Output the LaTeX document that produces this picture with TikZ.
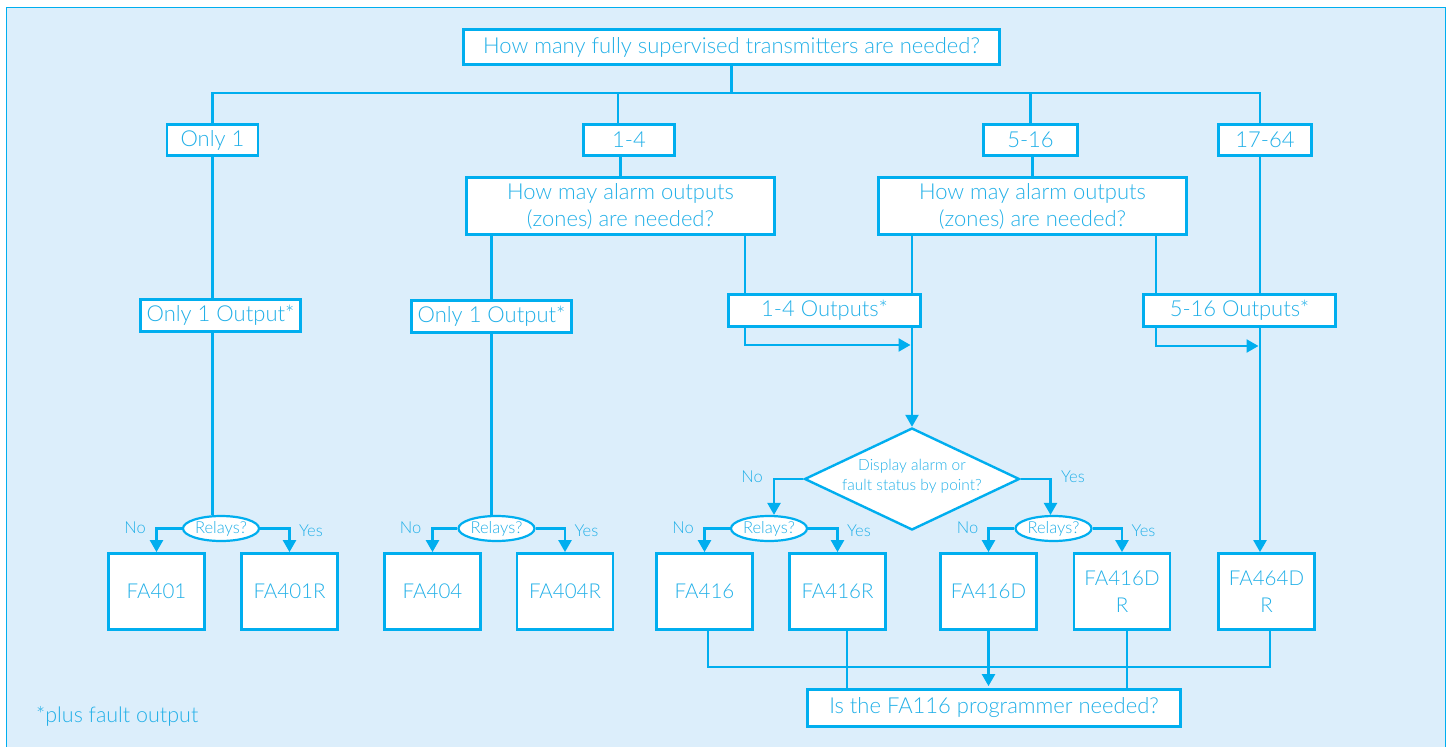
\documentclass[tikz,border=0pt]{standalone}
\usepackage{fontspec}
\setmainfont{Lato}[UprightFont=* Light]
\usetikzlibrary{arrows.meta,shapes.geometric,calc}
\definecolor{cy}{HTML}{00AEEF}
\definecolor{tx}{HTML}{22B0E8}
\definecolor{pan}{HTML}{DCEEFB}
\begin{document}
\begin{tikzpicture}[x=1pt,y=-1pt,
  box/.style={draw=cy,line width=2.8pt,fill=white,inner sep=0pt,text=tx,
    font=\fontsize{22}{27}\selectfont,align=center},
  ln/.style={draw=cy,line width=2.4pt},
  arr/.style={ln,-{Triangle[length=12pt,width=13pt]}},
  relay/.style={ellipse,draw=cy,line width=2.2pt,fill=white,minimum width=76pt,
    minimum height=25pt,inner sep=0pt},
  rtext/.style={text=tx,font=\fontsize{16.5}{19}\selectfont,inner sep=0pt},
  lab/.style={text=tx,font=\fontsize{16.5}{19}\selectfont,inner sep=0pt},
  fa/.style={box,minimum width=96pt,minimum height=76pt,font=\fontsize{20.5}{27}\selectfont},
]
\useasboundingbox (0,0) rectangle (1449,747);
\fill[white] (0,0) rectangle (1449,747);
\filldraw[fill=pan,draw=cy,line width=1pt] (6.5,7) rectangle (1445,770);

% top level
\node[box,minimum width=536pt,minimum height=35pt] (top) at (731.5,47) {How many fully supervised transmitters are needed?};
\node[box,minimum width=91pt,minimum height=31pt] (o1) at (212.5,140) {Only 1};
\node[box,minimum width=91pt,minimum height=31pt] (b14) at (629,140) {1-4};
\node[box,minimum width=94pt,minimum height=31pt] (b516) at (1030.5,140) {5-16};
\node[box,minimum width=93pt,minimum height=31pt] (b1764) at (1265,140) {17-64};

\node[box,minimum width=308pt,minimum height=57pt] (q1) at (620.5,206) {How may alarm outputs\\(zones) are needed?};
\node[box,minimum width=308pt,minimum height=57pt] (q2) at (1032.5,206) {How may alarm outputs\\(zones) are needed?};

\node[box,minimum width=160pt,minimum height=32pt] (out1) at (220.5,315.5) {Only 1 Output*};
\node[box,minimum width=160pt,minimum height=32pt] (out2) at (491.5,316.5) {Only 1 Output*};
\node[box,minimum width=192pt,minimum height=32pt] (out14) at (824.5,310.5) {1-4 Outputs*};
\node[box,minimum width=192pt,minimum height=32pt] (out516) at (1239.5,310.5) {5-16 Outputs*};

\node[diamond,draw=cy,line width=2.4pt,fill=white,minimum width=215pt,minimum height=102pt,inner sep=0pt] (dia) at (912,479) {};
\node[text=tx,font=\fontsize{15.5}{20}\selectfont,align=center] (diat) at (912,476) {Display alarm or\\fault status by point?};

\node[relay] (r1) at (221,528.5) {};
\node[relay] (r2) at (496.5,528.5) {};
\node[relay] (r3) at (769,528.5) {};
\node[relay] (r4) at (1053.5,528.5) {};
\foreach \r in {r1,r2,r3,r4}{\node[rtext] at (\r) {Relays?};}

\node[fa] (fa401) at (156.5,591.5) {FA401};
\node[fa] (fa401r) at (289.5,591.5) {FA401R};
\node[fa] (fa404) at (432.5,591.5) {FA404};
\node[fa] (fa404r) at (565,591.5) {FA404R};
\node[fa] (fa416) at (704.5,591.5) {FA416};
\node[fa] (fa416r) at (837.5,591.5) {FA416R};
\node[fa] (fa416d) at (988.5,591.5) {FA416D};
\node[fa] (fa416dr) at (1122,591.5) {FA416D\\R};
\node[fa] (fa464) at (1266.5,591.5) {FA464D\\R};

\node[box,minimum width=373pt,minimum height=37pt] (q116) at (994,708) {Is the FA116 programmer needed?};

\node[anchor=west,text=tx,font=\fontsize{21.5}{24}\selectfont,inner sep=0pt] (fn) at (36,716) {*plus fault output};

% bus
\coordinate (bus) at (731.5,93);
\draw[ln] (top.south) -- (bus);
\draw[ln] (o1.north) |- (bus);
\draw[ln] ([xshift=-11pt]b14.north) |- (bus);
\draw[ln] (b516.north) |- (bus);
\draw[ln] ([xshift=-5pt]b1764.north) |- (bus);

\draw[ln] (q1.north) -- (q1.north |- b14.south);
\draw[ln] (q2.north) -- (q2.north |- b516.south);

% left column
\draw[ln] (o1.south) -- (o1.south |- out1.north);
\draw[ln] (o1.south |- out1.south) -- (o1.south |- r1.north);
\draw[ln] (out2.north) -- (out2.north |- q1.south);
\draw[ln] (out2.south) -- (out2.south |- r2.north);

% middle
\coordinate (xa) at (745,0);
\coordinate (xb) at (912,0);
\coordinate (xc) at (1156,0);
\coordinate (xd) at (1260,0);
\coordinate (ya) at (0,345);
\coordinate (yb) at (0,346);
\draw[ln] (xa |- q1.south) -- (xa |- out14.north);
\draw[arr,shorten >=1.5pt] (xa |- out14.south) |- (xb |- ya);
\draw[ln] (xb |- q2.south) -- (xb |- out14.north);
\draw[arr] (xb |- out14.south) -- (dia.north);
\draw[ln] (xc |- q2.south) -- (xc |- out516.north);
\draw[arr,shorten >=1.5pt] (xc |- out516.south) |- (xd |- yb);
\draw[ln] (xd |- b1764.south) -- (xd |- out516.north);
\draw[arr] (xd |- out516.south) -- (xd |- fa464.north);

% diamond branches
\draw[arr] (dia.west) -| ([xshift=5pt]r3.north);
\draw[arr] (dia.east) -| ([xshift=-3pt]r4.north);
\node[lab] at (752,477) {No};
\node[lab] at (1073,477) {Yes};

% relays
\draw[arr] (r1.west) -| (fa401.north);
\draw[arr] (r1.east) -| (fa401r.north);
\draw[arr] (r2.west) -| (fa404.north);
\draw[arr] (r2.east) -| (fa404r.north);
\draw[arr] (r3.west) -| (fa416.north);
\draw[arr] (r3.east) -| (fa416r.north);
\draw[arr] (r4.west) -| (fa416d.north);
\draw[arr] (r4.east) -| (fa416dr.north);
\foreach \r in {r1,r2,r3,r4}{
  \node[lab] at ($(\r)+(-86,-1)$) {No};
  \node[lab] at ($(\r)+(90,2)$) {Yes};
}

% bottom
\coordinate (k0) at ($(fa416.south)+(3.5,0)$);
\coordinate (k4) at ($(fa464.south)+(3.5,0)$);
\coordinate (yc) at (0,667);
\draw[ln] (k0) -- (k0 |- yc) -- (k4 |- yc) -- (k4);
\coordinate (k1) at ($(fa416r.south)+(9.5,0)$);
\draw[ln] (k1) -- (k1 |- q116.north);
\draw[arr,shorten >=2pt] (fa416d.south) -- (fa416d.south |- q116.north);
\coordinate (k2) at ($(fa416dr.south)+(5,0)$);
\draw[ln] (k2) -- (k2 |- q116.north);
\end{tikzpicture}
\end{document}
